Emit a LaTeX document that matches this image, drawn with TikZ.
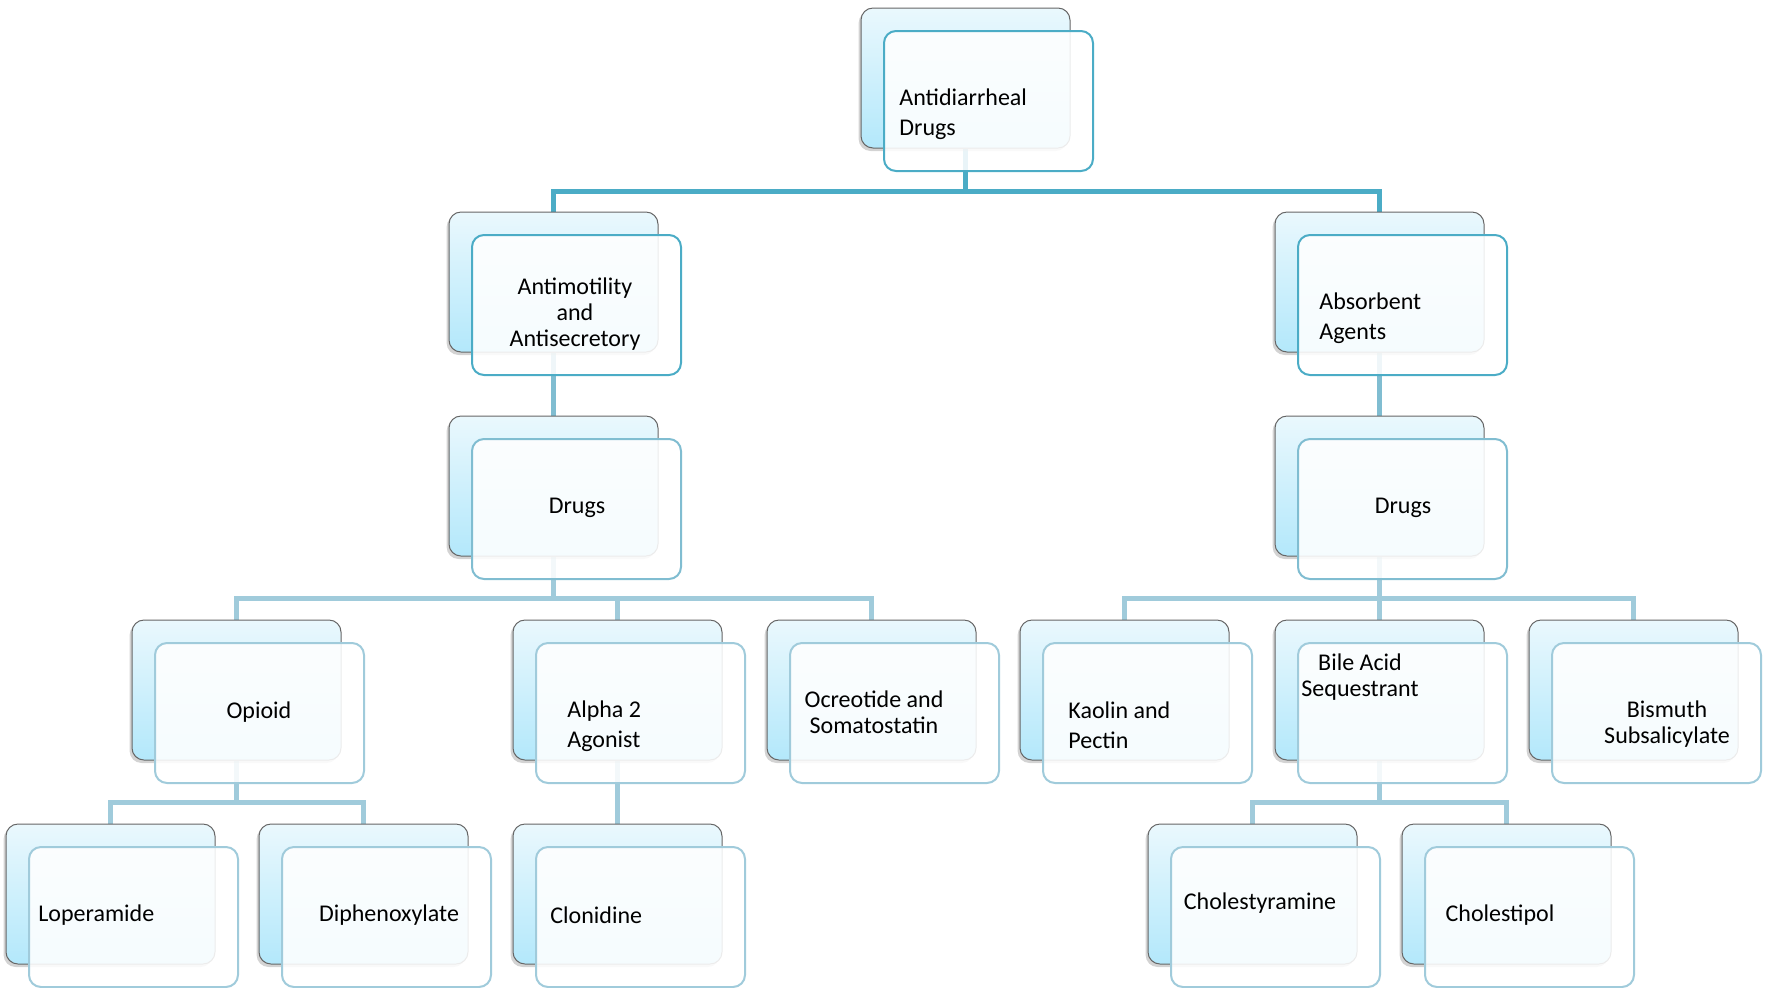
\documentclass[tikz,border=0pt]{standalone}
\usepackage{fontspec}
\setmainfont{Carlito}
\usepackage{xcolor}
\usetikzlibrary{shadows}

\definecolor{linkdark}{HTML}{4BACC6}
\definecolor{linkmid}{HTML}{80BDD1}
\definecolor{linklight}{HTML}{A0CBDB}
\definecolor{cardtop}{HTML}{EAF8FD}
\definecolor{cardbot}{HTML}{B3E8FB}

\pgfdeclarelayer{links}
\pgfsetlayers{links,main}

\begin{document}
\begin{tikzpicture}[x=0.5pt, y=-0.5pt,
    card/.style={draw=gray!80!black, line width=0.5pt, rounded corners=6pt,
        minimum width=104.5pt, minimum height=70pt, inner sep=0pt,
        top color=cardtop, bottom color=cardbot,
        drop shadow={shadow xshift=-1.2pt, shadow yshift=-1.5pt, opacity=0.35}},
    cover/.style={line width=1pt, rounded corners=6pt, fill=white, fill opacity=0.88,
        minimum width=104.5pt, minimum height=70pt, inner sep=0pt},
    cover1/.style={cover, draw=linkdark},
    cover2/.style={cover, draw=linkmid},
    cover3/.style={cover, draw=linklight},
    label/.style={inner sep=0pt, font=\fontsize{12}{13}\selectfont},
    widelabel/.style={inner sep=0pt, font=\fontsize{12}{15}\selectfont},
    link/.style={line width=2.5pt}]
    \useasboundingbox (0,0) rectangle (1768,987);

    % top
    \node[card] (root) at (965.5,78) {};
    \node[cover1] (rootF) at (988.5,101) {};
    \node[widelabel, anchor=west, align=left] (rootT) at (899,114) {Antidiarrheal\\Drugs};

    % second row
    \node[card] (anti) at (553.5,282) {};
    \node[cover1] (antiF) at (576.5,305) {};
    \node[label, align=center] (antiT) at (575,314) {Antimotility\\and\\Antisecretory};

    \node[card] (absorb) at (1379.5,282) {};
    \node[cover1] (absorbF) at (1402.5,305) {};
    \node[widelabel, anchor=west, align=left] (absorbT) at (1319,318) {Absorbent\\Agents};

    % drugs
    \node[card] (drugsA) at (553.5,486) {};
    \node[cover2] (drugsAF) at (576.5,509) {};
    \node[label] (drugsAT) at (577,508) {Drugs};

    \node[card] (drugsB) at (1379.5,486) {};
    \node[cover2] (drugsBF) at (1402.5,509) {};
    \node[label] (drugsBT) at (1403,508) {Drugs};

    % classes
    \node[card] (opioid) at (236.5,690) {};
    \node[cover3] (opioidF) at (259.5,713) {};
    \node[label] (opioidT) at (259,712) {Opioid};

    \node[card] (alpha) at (617.5,690) {};
    \node[cover3] (alphaF) at (640.5,713) {};
    \node[widelabel, anchor=west, align=left] (alphaT) at (567,726) {Alpha 2\\Agonist};

    \node[card] (ocreo) at (871.5,690) {};
    \node[cover3] (ocreoF) at (894.5,713) {};
    \node[label, align=center] (ocreoT) at (874,712) {Ocreotide and\\Somatostatin};

    \node[card] (kaolin) at (1124.5,690) {};
    \node[cover3] (kaolinF) at (1147.5,713) {};
    \node[widelabel, anchor=west, align=left] (kaolinT) at (1068,725) {Kaolin and\\Pectin};

    \node[card] (bile) at (1379.5,690) {};
    \node[cover3] (bileF) at (1402.5,713) {};
    \node[label, align=center] (bileT) at (1360,677) {Bile Acid\\Sequestrant};

    \node[card] (bismuth) at (1633.5,690) {};
    \node[cover3] (bismuthF) at (1656.5,713) {};
    \node[label, align=center] (bismuthT) at (1667,724) {Bismuth\\Subsalicylate};

    % agents
    \node[card] (lopera) at (110.5,894) {};
    \node[cover3] (loperaF) at (133.5,917) {};
    \node[label, anchor=west] (loperaT) at (38,915) {Loperamide};

    \node[card] (diphen) at (363.5,894) {};
    \node[cover3] (diphenF) at (386.5,917) {};
    \node[label] (diphenT) at (389,915) {Diphenoxylate};

    \node[card] (clonid) at (617.5,894) {};
    \node[cover3] (clonidF) at (640.5,917) {};
    \node[label, anchor=west] (clonidT) at (550,915) {Clonidine};

    \node[card] (cholestyr) at (1252.5,894) {};
    \node[cover3] (cholestyrF) at (1275.5,917) {};
    \node[label] (cholestyrT) at (1260,903) {Cholestyramine};

    \node[card] (cholestip) at (1506.5,894) {};
    \node[cover3] (cholestipF) at (1529.5,917) {};
    \node[label] (cholestipT) at (1500,915) {Cholestipol};

    \begin{pgfonlayer}{links}
        \draw[link, linkdark] (root.south) |- ([yshift=10pt]anti.north) -| (anti.north);
        \draw[link, linkdark] (root.south) |- ([yshift=10pt]absorb.north) -| (absorb.north);
        \draw[link, linkmid] (anti.south) -- (drugsA.north);
        \draw[link, linkmid] (absorb.south) -- (drugsB.north);

        \draw[link, linklight] (drugsA.south) |- ([yshift=10.5pt]opioid.north) -| (opioid.north);
        \draw[link, linklight] (drugsA.south) |- ([yshift=10.5pt]alpha.north) -| (alpha.north);
        \draw[link, linklight] (drugsA.south) |- ([yshift=10.5pt]ocreo.north) -| (ocreo.north);
        \draw[link, linklight] (drugsB.south) |- ([yshift=10.5pt]kaolin.north) -| (kaolin.north);
        \draw[link, linklight] (drugsB.south) -- (bile.north);
        \draw[link, linklight] (drugsB.south) |- ([yshift=10.5pt]bismuth.north) -| (bismuth.north);

        \draw[link, linklight] (opioid.south) |- ([yshift=10.5pt]lopera.north) -| (lopera.north);
        \draw[link, linklight] (opioid.south) |- ([yshift=10.5pt]diphen.north) -| (diphen.north);
        \draw[link, linklight] (alpha.south) -- (clonid.north);
        \draw[link, linklight] (bile.south) |- ([yshift=10.5pt]cholestyr.north) -| (cholestyr.north);
        \draw[link, linklight] (bile.south) |- ([yshift=10.5pt]cholestip.north) -| (cholestip.north);
    \end{pgfonlayer}
\end{tikzpicture}
\end{document}
